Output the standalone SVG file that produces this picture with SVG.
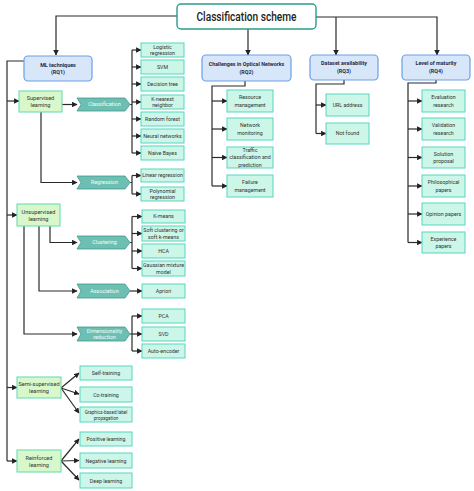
<svg xmlns="http://www.w3.org/2000/svg" width="474" height="491" viewBox="0 0 474 491">
<defs>
<marker id="ah" viewBox="0 0 10 10" refX="9" refY="5" markerWidth="5.5" markerHeight="5.5" markerUnits="userSpaceOnUse" orient="auto">
<path d="M0,0 L10,5 L0,10 z" fill="#222"/>
</marker>
<style>
text{font-family:Roboto,"Liberation Sans",sans-serif;fill:#333;text-anchor:middle}
.title rect{fill:#fff;stroke:#2a9c8b;stroke-width:1.4}
.title text{font-size:13px;font-weight:500;fill:#222}
.rq rect{fill:#d8e6fa;stroke:#6b9fe6;stroke-width:1.2}
.rq text{font-size:5.4px;font-weight:bold;fill:#2a2a3a}
.cat rect{fill:#d8f8cb;stroke:#6cdcb5;stroke-width:1.1}
.cat text{font-size:5.6px}
.leaf rect{fill:#ccf6e8;stroke:#55d7bf;stroke-width:1}
.leaf text{font-size:5.3px}
.chev path{fill:#6cbfb2;stroke:#409b8c;stroke-width:0.8}
.chev text{font-size:5.4px;fill:#effffb}
#connectors path{fill:none;stroke:#2b2b2b;stroke-width:1.2}
#connectors .a{marker-end:url(#ah)}
</style>
</defs>

<g id="connectors">
<path class="a" d="M177,16 H56 V55"/>
<path class="a" d="M248,29 V55"/>
<path class="a" d="M316,17 H437 V55"/>
<path class="a" d="M336,17 V55"/>
<path d="M24,61 H7 V461"/>
<path class="a" d="M7,101 H19"/>
<path class="a" d="M7,215 H17"/>
<path class="a" d="M7,387.5 H17"/>
<path class="a" d="M7,461 H17"/>
<path class="a" d="M62,104.5 H77"/>
<path class="a" d="M41,112 V182.5 H77"/>
<path class="a" d="M50,226 V242.5 H77"/>
<path class="a" d="M39,226 V291 H77"/>
<path class="a" d="M24,226 V334 H77"/>
<path d="M130,104.5 H132 M132,50 V153"/>
<path class="a" d="M132,50 H141"/>
<path class="a" d="M132,67 H141"/>
<path class="a" d="M132,84 H141"/>
<path class="a" d="M132,102 H141"/>
<path class="a" d="M132,119 H141"/>
<path class="a" d="M132,136 H141"/>
<path class="a" d="M132,153 H141"/>
<path d="M130,182.5 H132 M132,175.5 V194"/>
<path class="a" d="M132,175.5 H141"/>
<path class="a" d="M132,194 H141"/>
<path d="M130,242.5 H132 M132,216.5 V268.5"/>
<path class="a" d="M132,216.5 H142"/>
<path class="a" d="M132,233.5 H142"/>
<path class="a" d="M132,251 H142"/>
<path class="a" d="M132,268.5 H142"/>
<path class="a" d="M130,291 H142"/>
<path d="M130,334 H132 M132,316 V351"/>
<path class="a" d="M132,316 H142"/>
<path class="a" d="M132,334 H142"/>
<path class="a" d="M132,351 H142"/>
<path class="a" d="M61,388 L79,373"/>
<path class="a" d="M61,388 L79,394"/>
<path class="a" d="M61,388 L79,413"/>
<path class="a" d="M61,461 L79,439"/>
<path class="a" d="M61,461 L79,460.5"/>
<path class="a" d="M61,461 L79,480"/>
<path d="M245,81 V86 H212 V186"/>
<path class="a" d="M212,101 H227"/>
<path class="a" d="M212,129 H227"/>
<path class="a" d="M212,157.5 H227"/>
<path class="a" d="M212,186 H227"/>
<path d="M344,80 V84 H316 V133.5"/>
<path class="a" d="M316,105 H326"/>
<path class="a" d="M316,133.5 H326"/>
<path d="M436,80 V83 H408 V242.5"/>
<path class="a" d="M408,101 H422"/>
<path class="a" d="M408,129 H422"/>
<path class="a" d="M408,157.5 H422"/>
<path class="a" d="M408,186 H422"/>
<path class="a" d="M408,214 H422"/>
<path class="a" d="M408,242.5 H422"/>
</g>

<g id="title" class="title"><rect x="177" y="4" width="139" height="25" rx="4"/><text x="246.5" y="21.3" textLength="100" lengthAdjust="spacingAndGlyphs">Classification scheme</text></g>

<g id="rq1" class="rq"><rect x="24" y="56" width="68" height="25" rx="4"/><text x="58" y="66.5">ML techniques</text><text x="58" y="74">(RQ1)</text></g>
<g id="rq2" class="rq"><rect x="202" y="55" width="89" height="26" rx="4"/><text x="246.5" y="65.5">Challenges in Optical Networks</text><text x="246.5" y="73.5">(RQ2)</text></g>
<g id="rq3" class="rq"><rect x="310" y="55" width="68" height="25" rx="4"/><text x="344" y="64.5">Dataset availability</text><text x="344" y="73">(RQ3)</text></g>
<g id="rq4" class="rq"><rect x="402" y="55" width="68" height="25" rx="4"/><text x="436" y="64.5">Level of maturity</text><text x="436" y="73">(RQ4)</text></g>

<g id="supervised" class="cat"><rect x="19" y="91" width="43" height="21"/><text x="40.5" y="100">Supervised</text><text x="40.5" y="107">learning</text></g>
<g id="unsupervised" class="cat"><rect x="17" y="204" width="43" height="22"/><text x="38.5" y="213.5">Unsupervised</text><text x="38.5" y="220.5">learning</text></g>
<g id="semisupervised" class="cat"><rect x="17" y="377" width="44" height="21"/><text x="39" y="386">Semi-supervised</text><text x="39" y="393">learning</text></g>
<g id="reinforced" class="cat"><rect x="17" y="450" width="44" height="22"/><text x="39" y="459.5">Reinforced</text><text x="39" y="466.5">learning</text></g>

<g id="classification" class="chev"><path d="M77,98 H125 L130,104.5 L125,111 H77 L81,104.5 Z"/><text x="104.5" y="106.4">Classification</text></g>
<g id="regression" class="chev"><path d="M77,176 H125 L130,182.5 L125,189 H77 L81,182.5 Z"/><text x="104.5" y="184.4">Regression</text></g>
<g id="clustering" class="chev"><path d="M77,236 H125 L130,242.5 L125,249 H77 L81,242.5 Z"/><text x="104.5" y="244.4">Clustering</text></g>
<g id="association" class="chev"><path d="M77,284 H125 L130,291 L125,298 H77 L81,291 Z"/><text x="104.5" y="292.9">Association</text></g>
<g id="dimred" class="chev"><path d="M77,327 H125 L130,334 L125,341 H77 L81,334 Z"/><text x="104.5" y="332.5">Dimensionality</text><text x="104.5" y="339">reduction</text></g>

<g id="logistic" class="leaf"><rect x="141" y="43" width="43" height="14"/><text x="162.5" y="48.8">Logistic</text><text x="162.5" y="55">regression</text></g>
<g id="svm" class="leaf"><rect x="141" y="60" width="43" height="14"/><text x="162.5" y="68.8">SVM</text></g>
<g id="dtree" class="leaf"><rect x="141" y="77" width="43" height="14"/><text x="162.5" y="85.8">Decision tree</text></g>
<g id="knn" class="leaf"><rect x="141" y="95" width="43" height="14"/><text x="162.5" y="100.8">K-nearest</text><text x="162.5" y="107">neighbor</text></g>
<g id="rforest" class="leaf"><rect x="141" y="112" width="43" height="14"/><text x="162.5" y="120.8">Random forest</text></g>
<g id="nn" class="leaf"><rect x="141" y="129" width="43" height="14"/><text x="162.5" y="137.8">Neural networks</text></g>
<g id="nbayes" class="leaf"><rect x="141" y="146" width="43" height="14"/><text x="162.5" y="154.8">Naive Bayes</text></g>
<g id="linreg" class="leaf"><rect x="141" y="169" width="43" height="13"/><text x="162.5" y="177.3">Linear regression</text></g>
<g id="polyreg" class="leaf"><rect x="141" y="187" width="43" height="14"/><text x="162.5" y="192.8">Polynomial</text><text x="162.5" y="199">regression</text></g>
<g id="kmeans" class="leaf"><rect x="142" y="210" width="43" height="13"/><text x="163.5" y="218.3">K-means</text></g>
<g id="softclust" class="leaf"><rect x="142" y="226" width="43" height="15"/><text x="163.5" y="232.3">Soft clustering or</text><text x="163.5" y="238.6">soft k-means</text></g>
<g id="hca" class="leaf"><rect x="142" y="244" width="43" height="14"/><text x="163.5" y="252.8">HCA</text></g>
<g id="gmm" class="leaf"><rect x="142" y="261" width="43" height="15"/><text x="163.5" y="267.3">Gaussian mixture</text><text x="163.5" y="273.6">model</text></g>
<g id="apriori" class="leaf"><rect x="142" y="284" width="43" height="14"/><text x="163.5" y="292.8">Apriori</text></g>
<g id="pca" class="leaf"><rect x="142" y="309" width="43" height="14"/><text x="163.5" y="317.8">PCA</text></g>
<g id="svd" class="leaf"><rect x="142" y="327" width="43" height="14"/><text x="163.5" y="335.8">SVD</text></g>
<g id="autoenc" class="leaf"><rect x="142" y="344" width="43" height="14"/><text x="163.5" y="352.8">Auto-encoder</text></g>
<g id="selftrain" class="leaf"><rect x="80" y="366" width="52" height="14"/><text x="106" y="375">Self-training</text></g>
<g id="cotrain" class="leaf"><rect x="80" y="387" width="52" height="15"/><text x="106" y="396.5">Co-training</text></g>
<g id="graphlabel" class="leaf"><rect x="80" y="407" width="52" height="15"/><text x="106" y="413.5" style="font-size:4.6px">Graphics-based label</text><text x="106" y="419.5" style="font-size:4.6px">propagation</text></g>
<g id="poslearn" class="leaf"><rect x="80" y="432" width="52" height="14"/><text x="106" y="441">Positive learning</text></g>
<g id="neglearn" class="leaf"><rect x="80" y="453" width="52" height="15"/><text x="106" y="462.5">Negative learning</text></g>
<g id="deeplearn" class="leaf"><rect x="80" y="473" width="52" height="15"/><text x="106" y="482.5">Deep learning</text></g>

<g id="resmgmt" class="leaf"><rect x="227" y="90" width="46" height="22"/><text x="250" y="99">Resource</text><text x="250" y="106.5">management</text></g>
<g id="netmon" class="leaf"><rect x="227" y="118" width="46" height="22"/><text x="250" y="127">Network</text><text x="250" y="134.5">monitoring</text></g>
<g id="traffic" class="leaf"><rect x="227" y="147" width="46" height="21"/><text x="250" y="152">Traffic</text><text x="250" y="159.3">classification and</text><text x="250" y="166.5">prediction</text></g>
<g id="failmgmt" class="leaf"><rect x="227" y="175" width="46" height="22"/><text x="250" y="184">Failure</text><text x="250" y="191.5">management</text></g>

<g id="url" class="leaf"><rect x="326" y="94" width="43" height="22"/><text x="347.5" y="106.8">URL address</text></g>
<g id="notfound" class="leaf"><rect x="326" y="123" width="43" height="21"/><text x="347.5" y="135.3">Not found</text></g>

<g id="evalres" class="leaf"><rect x="422" y="90" width="43" height="22"/><text x="443.5" y="99">Evaluation</text><text x="443.5" y="106.5">research</text></g>
<g id="valres" class="leaf"><rect x="422" y="118" width="43" height="22"/><text x="443.5" y="127">Validation</text><text x="443.5" y="134.5">research</text></g>
<g id="solprop" class="leaf"><rect x="422" y="147" width="43" height="21"/><text x="443.5" y="155.5">Solution</text><text x="443.5" y="163">proposal</text></g>
<g id="philo" class="leaf"><rect x="422" y="175" width="43" height="22"/><text x="443.5" y="184">Philosophical</text><text x="443.5" y="191.5">papers</text></g>
<g id="opinion" class="leaf"><rect x="422" y="203" width="43" height="22"/><text x="443.5" y="215.8">Opinion papers</text></g>
<g id="experience" class="leaf"><rect x="422" y="232" width="43" height="21"/><text x="443.5" y="240.5">Experience</text><text x="443.5" y="248">papers</text></g>
</svg>
